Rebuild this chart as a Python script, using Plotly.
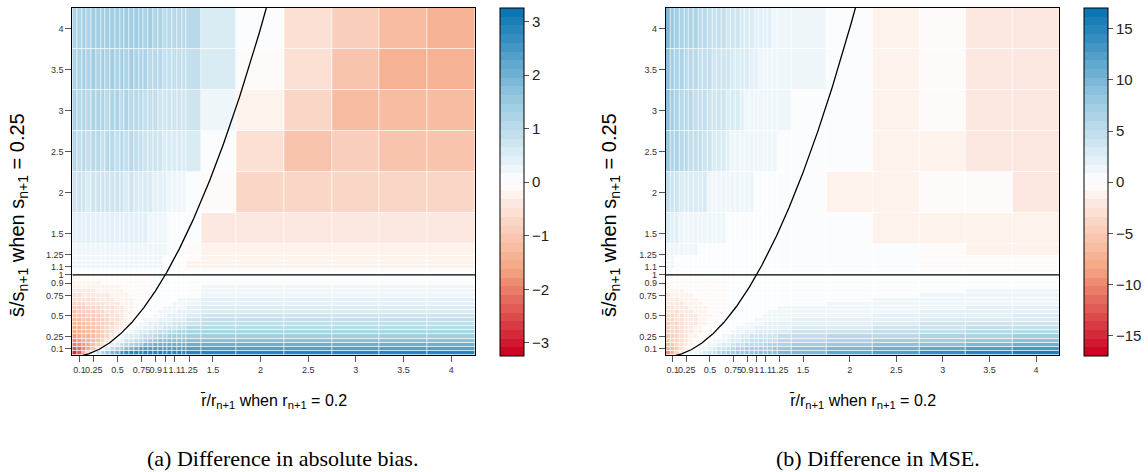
import numpy as np
import plotly.graph_objects as go

# ---------------- grid / ticks ----------------
grid = [0.05, 0.1, 0.15, 0.2, 0.25, 0.3, 0.35, 0.4, 0.45, 0.5, 0.55, 0.6, 0.65, 0.7, 0.75,
        0.8, 0.85, 0.9, 0.95, 1.0, 1.05, 1.1, 1.15, 1.2, 1.25, 1.5, 2, 2.5, 3, 3.5, 4]
tick_vals = [0.1, 0.25, 0.5, 0.75, 0.9, 1, 1.1, 1.25, 1.5, 2, 2.5, 3, 3.5, 4]
tick_text = ["0.1", "0.25", "0.5", "0.75", "0.9", "1", "1.1", "1.25", "1.5", "2", "2.5", "3", "3.5", "4"]
bias_ticks = [-3, -2, -1, 0, 1, 2, 3]
mse_ticks = [-15, -10, -5, 0, 5, 10, 15]

# ---------------- (a) difference in absolute bias ----------------
bias_low = [
    [-2.9, -2.4, -1.4, -0.5, 0.3, 0.8, 1.2, 1.5, 1.8, 2.1, 2.5, 2.75, 2.85, 2.9, 2.85, 2.9, 2.9, 2.85, 2.9, 2.9, 2.85, 2.9, 2.9, 2.85, 2.9, 2.9, 2.9, 2.85, 2.9, 2.9, 2.9],
    [-2.4, -2.2, -1.9, -1.5, -1.0, -0.4, 0.3, 0.6, 0.9, 1.2, 1.4, 1.65, 1.9, 2.1, 2.3, 2.4, 2.4, 2.4, 2.4, 2.4, 2.4, 2.4, 2.4, 2.4, 2.4, 2.4, 2.4, 2.4, 2.4, 2.4, 2.4],
    [-2.1, -1.95, -1.75, -1.5, -1.25, -0.9, -0.5, 0.1, 0.4, 0.6, 0.85, 1.05, 1.25, 1.45, 1.6, 1.8, 1.95, 2.1, 2.1, 2.1, 2.1, 2.1, 2.1, 2.1, 2.1, 2.1, 2.1, 2.1, 2.1, 2.1, 2.1],
    [-1.85, -1.75, -1.6, -1.45, -1.3, -1.05, -0.8, -0.45, 0.0, 0.25, 0.45, 0.65, 0.8, 0.95, 1.1, 1.25, 1.35, 1.5, 1.65, 1.75, 1.75, 1.75, 1.75, 1.75, 1.75, 1.75, 1.75, 1.75, 1.75, 1.75, 1.75],
    [-1.65, -1.55, -1.45, -1.35, -1.2, -1.05, -0.85, -0.65, -0.4, 0.0, 0.2, 0.35, 0.5, 0.6, 0.7, 0.85, 0.95, 1.05, 1.15, 1.25, 1.35, 1.45, 1.45, 1.45, 1.45, 1.45, 1.45, 1.45, 1.45, 1.45, 1.45],
    [-1.5, -1.45, -1.35, -1.25, -1.15, -1.05, -0.9, -0.75, -0.55, -0.3, 0.0, 0.15, 0.3, 0.4, 0.5, 0.6, 0.7, 0.75, 0.85, 0.95, 1.0, 1.1, 1.2, 1.25, 1.25, 1.25, 1.25, 1.25, 1.25, 1.25, 1.25],
    [-1.4, -1.35, -1.3, -1.2, -1.1, -1.0, -0.9, -0.78, -0.6, -0.45, -0.25, 0.0, 0.15, 0.25, 0.3, 0.4, 0.45, 0.55, 0.6, 0.7, 0.75, 0.8, 0.9, 0.95, 1.0, 1.05, 1.05, 1.05, 1.05, 1.05, 1.05],
    [-1.3, -1.25, -1.2, -1.1, -1.0, -0.95, -0.85, -0.75, -0.65, -0.52, -0.38, -0.2, 0.05, 0.15, 0.2, 0.3, 0.35, 0.4, 0.5, 0.55, 0.6, 0.65, 0.7, 0.75, 0.8, 0.95, 0.95, 0.95, 0.95, 0.95, 0.95],
    [-1.2, -1.15, -1.1, -1.05, -0.98, -0.9, -0.82, -0.74, -0.64, -0.55, -0.44, -0.32, -0.14, 0.05, 0.15, 0.2, 0.25, 0.3, 0.35, 0.4, 0.45, 0.5, 0.55, 0.6, 0.65, 0.85, 0.85, 0.85, 0.85, 0.85, 0.85],
    [-1.1, -1.05, -1.0, -0.95, -0.9, -0.84, -0.76, -0.68, -0.6, -0.52, -0.42, -0.3, -0.18, -0.06, 0.05, 0.1, 0.15, 0.2, 0.25, 0.3, 0.35, 0.4, 0.45, 0.45, 0.5, 0.72, 0.72, 0.72, 0.72, 0.72, 0.72],
    [-1.0, -0.96, -0.92, -0.87, -0.82, -0.76, -0.7, -0.63, -0.56, -0.48, -0.4, -0.32, -0.22, -0.11, 0.0, 0.05, 0.1, 0.15, 0.2, 0.25, 0.25, 0.3, 0.35, 0.35, 0.4, 0.62, 0.62, 0.62, 0.62, 0.62, 0.62],
    [-0.9, -0.87, -0.83, -0.79, -0.74, -0.69, -0.63, -0.57, -0.5, -0.44, -0.37, -0.3, -0.22, -0.14, -0.05, 0.02, 0.07, 0.1, 0.14, 0.18, 0.21, 0.25, 0.28, 0.31, 0.34, 0.55, 0.55, 0.55, 0.55, 0.55, 0.55],
    [-0.72, -0.7, -0.66, -0.63, -0.6, -0.55, -0.5, -0.46, -0.42, -0.37, -0.31, -0.25, -0.19, -0.13, -0.07, -0.01, 0.04, 0.07, 0.1, 0.13, 0.16, 0.19, 0.22, 0.25, 0.28, 0.47, 0.47, 0.47, 0.47, 0.47, 0.47],
    [-0.62, -0.6, -0.57, -0.54, -0.51, -0.48, -0.44, -0.4, -0.36, -0.32, -0.27, -0.22, -0.17, -0.12, -0.07, -0.03, 0.01, 0.04, 0.07, 0.09, 0.12, 0.15, 0.17, 0.2, 0.22, 0.4, 0.4, 0.4, 0.4, 0.4, 0.4],
    [-0.52, -0.5, -0.48, -0.46, -0.43, -0.4, -0.37, -0.34, -0.3, -0.26, -0.22, -0.18, -0.14, -0.1, -0.06, -0.03, -0.01, 0.02, 0.04, 0.06, 0.08, 0.1, 0.12, 0.14, 0.16, 0.32, 0.32, 0.32, 0.32, 0.32, 0.32],
    [-0.42, -0.41, -0.39, -0.37, -0.35, -0.32, -0.3, -0.27, -0.24, -0.21, -0.18, -0.15, -0.12, -0.09, -0.06, -0.03, -0.01, 0.0, 0.02, 0.04, 0.06, 0.07, 0.09, 0.1, 0.12, 0.25, 0.25, 0.25, 0.25, 0.25, 0.25],
    [-0.32, -0.31, -0.3, -0.28, -0.26, -0.25, -0.23, -0.21, -0.19, -0.17, -0.14, -0.12, -0.1, -0.07, -0.05, -0.03, -0.01, 0.0, 0.01, 0.02, 0.04, 0.05, 0.06, 0.07, 0.09, 0.18, 0.18, 0.18, 0.18, 0.18, 0.18],
    [-0.22, -0.21, -0.2, -0.19, -0.18, -0.17, -0.16, -0.14, -0.13, -0.11, -0.1, -0.08, -0.06, -0.05, -0.03, -0.02, -0.01, 0.0, 0.0, 0.01, 0.02, 0.03, 0.04, 0.05, 0.06, 0.12, 0.12, 0.12, 0.12, 0.12, 0.12],
    [-0.12, -0.12, -0.11, -0.1, -0.1, -0.09, -0.08, -0.07, -0.06, -0.05, -0.05, -0.04, -0.03, -0.02, -0.02, -0.01, 0.0, 0.0, 0.0, 0.01, 0.01, 0.02, 0.02, 0.03, 0.03, 0.06, 0.06, 0.06, 0.06, 0.06, 0.06],
    [-0.05, -0.05, -0.04, -0.04, -0.04, -0.03, -0.03, -0.03, -0.02, -0.02, -0.02, -0.01, -0.01, -0.01, 0.0, 0.0, 0.0, 0.0, 0.0, 0.0, 0.0, 0.0, 0.01, 0.01, 0.01, 0.02, 0.02, 0.02, 0.02, 0.02, 0.02],
]
bias_mid = [
    [0.03, 0.03, 0.03, 0.03, 0.03, 0.03, 0.03, 0.03, 0.03, 0.03, 0.03, 0.03, 0.03, 0.03, 0.03, 0.03, 0.03, 0.03, 0.03, 0.03, 0.0, 0.0, 0.0, 0.0, 0.0, 0.0, 0.0, 0.0, 0.0, 0.0, 0.0],
    [0.18, 0.18, 0.18, 0.18, 0.18, 0.18, 0.18, 0.18, 0.18, 0.18, 0.18, 0.18, 0.18, 0.18, 0.18, 0.18, 0.18, 0.18, 0.18, 0.1, 0.0, 0.0, -0.05, -0.1, -0.18, -0.2, -0.2, -0.2, -0.2, -0.2, -0.2],
    [0.18, 0.18, 0.18, 0.18, 0.18, 0.18, 0.18, 0.18, 0.18, 0.18, 0.18, 0.18, 0.18, 0.18, 0.18, 0.18, 0.18, 0.18, 0.18, 0.12, 0.05, 0.0, -0.05, -0.12, -0.18, -0.2, -0.2, -0.2, -0.2, -0.2, -0.2],
    [0.2, 0.2, 0.2, 0.2, 0.2, 0.2, 0.2, 0.2, 0.2, 0.2, 0.2, 0.2, 0.2, 0.2, 0.2, 0.2, 0.2, 0.2, 0.2, 0.15, 0.08, 0.02, -0.03, -0.1, -0.15, -0.2, -0.2, -0.2, -0.2, -0.2, -0.2],
    [0.22, 0.22, 0.22, 0.22, 0.22, 0.22, 0.22, 0.22, 0.22, 0.22, 0.22, 0.22, 0.22, 0.22, 0.22, 0.22, 0.22, 0.22, 0.22, 0.18, 0.12, 0.05, 0.0, -0.06, -0.1, -0.25, -0.25, -0.25, -0.25, -0.25, -0.25],
]
bias_high = [
    [0.45, 0.4, 0.42, 0.38, 0.45, 0.4, 0.42, 0.45, 0.4, 0.43, 0.38, 0.42, 0.4, 0.38, 0.35, 0.33, 0.3, 0.28, 0.25, 0.22, 0.15, 0.05, 0.02, 0.0, 0.0, -0.4, -0.4, -0.42, -0.42, -0.4, -0.4],
    [0.7, 0.65, 0.72, 0.6, 0.7, 0.65, 0.75, 0.68, 0.72, 0.65, 0.7, 0.62, 0.68, 0.6, 0.55, 0.52, 0.5, 0.45, 0.42, 0.4, 0.3, 0.28, 0.26, 0.25, 0.15, -0.15, -0.65, -0.65, -0.65, -0.65, -0.65],
    [1.0, 0.95, 1.05, 0.9, 1.0, 1.1, 0.95, 1.05, 1.0, 0.95, 1.05, 0.9, 1.0, 0.9, 0.85, 0.8, 0.75, 0.7, 0.65, 0.6, 0.6, 0.58, 0.55, 0.55, 0.5, 0.15, -0.55, -1.05, -0.95, -1.0, -1.0],
    [1.15, 1.1, 1.2, 1.05, 1.2, 1.15, 1.25, 1.1, 1.2, 1.15, 1.1, 1.2, 1.05, 1.1, 1.0, 0.95, 0.9, 0.85, 0.8, 0.75, 0.75, 0.72, 0.7, 0.7, 0.65, 0.3, -0.3, -0.7, -1.25, -1.2, -1.2],
    [1.2, 1.15, 1.3, 1.2, 1.35, 1.25, 1.3, 1.2, 1.35, 1.25, 1.3, 1.2, 1.3, 1.25, 1.2, 1.15, 1.1, 1.05, 1.0, 0.95, 0.95, 0.95, 0.9, 0.9, 0.85, 0.55, -0.15, -0.55, -1.05, -1.4, -1.4],
    [1.15, 1.2, 1.3, 1.25, 1.35, 1.3, 1.4, 1.3, 1.35, 1.4, 1.3, 1.35, 1.4, 1.3, 1.35, 1.25, 1.3, 1.2, 1.15, 1.1, 1.1, 1.1, 1.05, 1.05, 1.05, 0.55, 0.0, -0.55, -0.9, -1.15, -1.4],
]

# ---------------- (b) difference in MSE ----------------
mse_low = [
    [-9.5, -7.0, -4.2, -1.3, 0.4, 1.0, 1.7, 2.4, 3.1, 3.9, 4.6, 5.4, 6.2, 7.0, 7.6, 7.8, 7.9, 8.1, 8.3, 8.5, 8.7, 8.9, 9.1, 9.3, 9.5, 10.2, 11.5, 12.7, 13.8, 14.7, 15.5],
    [-7.5, -6.0, -4.3, -2.8, -1.4, -0.4, 0.45, 1.0, 1.6, 2.3, 2.9, 3.5, 4.2, 4.9, 5.6, 6.3, 6.7, 6.8, 7.0, 7.2, 7.3, 7.5, 7.6, 7.8, 8.0, 8.6, 9.6, 10.7, 11.6, 12.4, 13.0],
    [-6.5, -5.2, -4.0, -2.8, -1.8, -0.9, -0.25, 0.15, 0.7, 1.15, 1.7, 2.2, 2.7, 3.3, 3.8, 4.4, 5.0, 5.5, 5.6, 5.8, 5.9, 6.0, 6.2, 6.3, 6.4, 6.9, 7.8, 8.6, 9.3, 10.0, 10.5],
    [-5.8, -4.8, -3.9, -2.9, -2.0, -1.25, -0.62, -0.2, 0.0, 0.5, 0.9, 1.3, 1.7, 2.2, 2.6, 3.1, 3.6, 4.1, 4.6, 4.7, 4.8, 4.9, 5.0, 5.1, 5.2, 5.6, 6.3, 7.0, 7.6, 8.1, 8.5],
    [-5.3, -4.5, -3.75, -3.0, -2.25, -1.6, -1.0, -0.56, -0.2, 0.0, 0.4, 0.75, 1.1, 1.45, 1.8, 2.2, 2.6, 3.0, 3.4, 3.85, 3.9, 4.0, 4.1, 4.2, 4.3, 4.6, 5.2, 5.7, 6.2, 6.7, 7.0],
    [-5.0, -4.25, -3.6, -3.0, -2.4, -1.9, -1.4, -0.9, -0.5, -0.2, 0.0, 0.29, 0.55, 0.81, 1.09, 1.38, 1.67, 1.98, 2.29, 2.62, 2.95, 3.04, 3.11, 3.19, 3.27, 3.5, 3.9, 4.4, 5.1, 5.5, 5.8],
    [-4.6, -4.0, -3.5, -3.0, -2.5, -2.0, -1.55, -1.1, -0.75, -0.45, -0.2, 0.0, 0.25, 0.45, 0.66, 0.87, 1.09, 1.32, 1.55, 1.79, 2.04, 2.28, 2.34, 2.4, 2.46, 2.6, 2.9, 3.4, 4.2, 4.6, 4.8],
    [-4.3, -3.85, -3.4, -2.9, -2.5, -2.1, -1.75, -1.4, -1.0, -0.7, -0.38, -0.12, 0.07, 0.25, 0.42, 0.6, 0.78, 0.97, 1.16, 1.37, 1.57, 1.79, 1.95, 2.0, 2.05, 2.2, 2.4, 2.8, 3.5, 3.8, 4.0],
    [-4.0, -3.6, -3.25, -2.75, -2.4, -2.0, -1.7, -1.4, -1.05, -0.75, -0.5, -0.25, -0.06, 0.1, 0.24, 0.39, 0.54, 0.69, 0.85, 1.02, 1.19, 1.36, 1.54, 1.65, 1.69, 1.8, 2.0, 2.3, 2.9, 3.1, 3.3],
    [-3.7, -3.4, -3.1, -2.75, -2.4, -2.05, -1.75, -1.45, -1.12, -0.87, -0.62, -0.38, -0.19, 0.0, 0.11, 0.23, 0.34, 0.46, 0.59, 0.73, 0.85, 0.99, 1.14, 1.29, 1.33, 1.45, 1.56, 1.82, 2.3, 2.5, 2.6],
    [-3.3, -3.0, -2.7, -2.4, -2.13, -1.84, -1.57, -1.31, -1.05, -0.81, -0.56, -0.36, -0.15, 0.0, 0.0, 0.13, 0.23, 0.33, 0.44, 0.54, 0.66, 0.77, 0.89, 1.01, 1.13, 1.2, 1.3, 1.55, 1.95, 2.1, 2.2],
    [-2.9, -2.64, -2.37, -2.12, -1.86, -1.62, -1.38, -1.15, -0.92, -0.7, -0.5, -0.3, -0.13, 0.0, 0.0, 0.05, 0.14, 0.23, 0.32, 0.42, 0.51, 0.61, 0.71, 0.82, 0.93, 1.0, 1.15, 1.35, 1.65, 1.8, 1.9],
    [-2.5, -2.27, -2.05, -1.82, -1.6, -1.39, -1.19, -0.99, -0.8, -0.61, -0.43, -0.26, -0.12, 0.0, 0.0, 0.0, 0.07, 0.15, 0.23, 0.31, 0.39, 0.47, 0.55, 0.65, 0.74, 0.8, 0.96, 1.12, 1.4, 1.52, 1.6],
    [-2.1, -1.9, -1.72, -1.53, -1.35, -1.17, -1.0, -0.83, -0.67, -0.51, -0.36, -0.22, -0.09, 0.0, 0.0, 0.0, 0.02, 0.09, 0.15, 0.22, 0.29, 0.36, 0.43, 0.51, 0.58, 0.68, 0.81, 0.95, 1.19, 1.28, 1.35],
    [-1.7, -1.54, -1.39, -1.25, -1.09, -0.95, -0.8, -0.67, -0.54, -0.41, -0.29, -0.18, -0.08, 0.0, 0.0, 0.0, 0.0, 0.04, 0.1, 0.16, 0.22, 0.27, 0.34, 0.4, 0.47, 0.58, 0.69, 0.8, 1.0, 1.1, 1.15],
    [-1.2, -1.09, -0.98, -0.88, -0.77, -0.67, -0.57, -0.48, -0.38, -0.29, -0.21, -0.13, -0.06, 0.0, 0.0, 0.0, 0.0, 0.0, 0.06, 0.1, 0.15, 0.19, 0.24, 0.29, 0.34, 0.45, 0.54, 0.63, 0.79, 0.86, 0.9],
    [-0.9, -0.82, -0.74, -0.66, -0.58, -0.5, -0.43, -0.36, -0.29, -0.22, -0.15, -0.1, -0.04, 0.0, 0.0, 0.0, 0.0, 0.0, 0.02, 0.05, 0.08, 0.11, 0.15, 0.18, 0.22, 0.35, 0.42, 0.49, 0.62, 0.67, 0.7],
    [-0.6, -0.55, -0.49, -0.44, -0.39, -0.34, -0.29, -0.24, -0.19, -0.15, -0.1, -0.06, -0.03, 0.0, 0.0, 0.0, 0.0, 0.0, 0.0, 0.02, 0.04, 0.06, 0.08, 0.1, 0.12, 0.22, 0.27, 0.32, 0.4, 0.43, 0.45],
    [-0.3, -0.27, -0.25, -0.22, -0.19, -0.17, -0.14, -0.12, -0.1, -0.07, -0.05, -0.03, -0.01, 0.0, 0.0, 0.0, 0.0, 0.0, 0.0, 0.01, 0.02, 0.03, 0.04, 0.05, 0.06, 0.12, 0.15, 0.18, 0.22, 0.24, 0.25],
    [-0.1, -0.09, -0.08, -0.07, -0.06, -0.05, -0.04, -0.03, -0.02, -0.01, 0.0, 0.0, 0.0, 0.0, 0.0, 0.0, 0.0, 0.0, 0.0, 0.0, 0.01, 0.01, 0.01, 0.01, 0.01, 0.02, 0.03, 0.03, 0.04, 0.05, 0.05],
]
mse_mid = [
    [0.5, 0.3, 0.0, 0.0, 0.0, 0.0, 0.0, 0.0, 0.0, 0.0, 0.0, 0.0, 0.0, 0.0, 0.0, 0.0, 0.0, 0.0, 0.0, 0.0, 0.0, 0.0, 0.0, 0.0, 0.0, 0.0, 0.0, 0.0, 0.0, -0.1, -0.1],
    [1.0, 0.9, 0.3, 0.0, 0.0, 0.0, 0.0, 0.0, 0.0, 0.0, 0.0, 0.0, 0.0, 0.0, 0.0, 0.0, 0.0, 0.0, 0.0, 0.0, 0.0, 0.0, 0.0, 0.0, 0.0, 0.0, 0.0, 0.0, -0.1, -0.5, -0.5],
    [1.1, 1.0, 0.4, 0.0, 0.0, 0.0, 0.0, 0.0, 0.0, 0.0, 0.0, 0.0, 0.0, 0.0, 0.0, 0.0, 0.0, 0.0, 0.0, 0.0, 0.0, 0.0, 0.0, 0.0, 0.0, 0.0, 0.0, 0.0, -0.1, -0.6, -0.6],
    [1.2, 1.1, 0.5, 0.0, 0.0, 0.0, 0.0, 0.0, 0.0, 0.0, 0.0, 0.0, 0.0, 0.0, 0.0, 0.0, 0.0, 0.0, 0.0, 0.0, 0.0, 0.0, 0.0, 0.0, 0.0, 0.0, 0.0, 0.0, -0.1, -0.7, -0.7],
    [1.3, 1.3, 1.3, 1.3, 1.3, 1.3, 1.3, 0.3, 0.2, 0.1, 0.0, 0.0, 0.0, 0.0, 0.0, 0.0, 0.0, 0.0, 0.0, 0.0, 0.0, 0.0, 0.0, 0.0, 0.0, 0.0, 0.0, 0.0, -0.1, -1.3, -1.3],
]
mse_high = [
    [2.6, 2.5, 2.4, 1.4, 1.3, 1.3, 1.3, 1.2, 1.2, 1.1, 1.1, 1.0, 1.0, 0.3, 0.2, 0.2, 0.1, 0.1, 0.1, 0.1, 0.0, 0.0, 0.0, 0.0, 0.0, 0.0, 0.0, -0.9, -0.9, -0.9, -0.9],
    [4.7, 4.2, 3.9, 3.2, 3.0, 2.9, 2.8, 2.7, 2.6, 1.5, 1.4, 1.4, 1.3, 1.3, 1.2, 1.2, 1.1, 1.1, 1.0, 0.3, 0.2, 0.2, 0.1, 0.1, 0.1, 0.0, -0.9, -0.9, -0.8, -0.8, -2.3],
    [8.3, 6.5, 6.0, 5.6, 5.2, 4.9, 4.6, 4.3, 4.0, 3.6, 3.3, 3.0, 2.7, 2.3, 1.2, 1.0, 0.9, 0.9, 0.9, 0.9, 0.9, 0.9, 0.9, 0.9, 0.5, 0.0, 0.0, -0.9, -0.9, -1.7, -1.7],
    [8.5, 6.8, 6.3, 5.9, 5.6, 5.3, 5.0, 4.7, 4.4, 4.1, 3.8, 3.6, 3.4, 3.2, 3.0, 2.8, 2.2, 1.1, 1.0, 1.0, 1.0, 1.0, 0.9, 0.9, 0.9, 0.0, 0.0, -0.9, -0.8, -1.8, -1.8],
    [8.6, 7.0, 6.5, 6.1, 5.8, 5.5, 5.2, 5.0, 4.7, 4.4, 4.2, 3.9, 3.6, 3.4, 3.2, 3.0, 2.8, 2.6, 2.4, 2.2, 1.3, 1.2, 1.2, 1.1, 1.0, 1.0, 0.0, -0.9, -0.8, -1.8, -1.8],
    [9.5, 7.8, 7.0, 6.6, 6.4, 6.2, 6.0, 5.6, 5.3, 5.1, 4.9, 4.6, 4.3, 4.0, 3.7, 3.5, 3.2, 2.8, 2.6, 2.5, 2.3, 2.2, 2.0, 1.6, 1.2, 1.0, 0.0, -0.9, -0.8, -2.1, -2.0],
]

bias_z = bias_low + bias_mid + bias_high
mse_z = mse_low + mse_mid + mse_high

# ---------------- discrete diverging palette (40 levels) ----------------
anchors = ["#ca0020", "#f4a582", "#ffffff", "#92c5de", "#0571b0"]


def hex2rgb(h):
    return [int(h[i:i + 2], 16) for i in (1, 3, 5)]


def ramp(t):
    seg = min(int(t * 4), 3)
    f = t * 4 - seg
    a, b = hex2rgb(anchors[seg]), hex2rgb(anchors[seg + 1])
    c = [round(a[k] + (b[k] - a[k]) * f) for k in range(3)]
    return "rgb(%d,%d,%d)" % tuple(c)


N = 40
cscale = []
for i in range(N):
    col = ramp((i + 0.5) / N)
    cscale.append([i / N, col])
    cscale.append([(i + 1) / N, col])

W, H = 1148, 472
ydom = [1 - 355 / H, 1 - 8 / H]
xdom1 = [72.3 / W, 475 / W]
xdom2 = [665.7 / W, 1059.3 / W]
rng = [0.025, 4.25]

cb_common = dict(thickness=24, thicknessmode="pixels", len=348, lenmode="pixels",
                 y=1 - 182.2 / H, yanchor="middle", xanchor="left", xpad=0, ypad=0,
                 outlinewidth=1, outlinecolor="black", ticks="outside", ticklen=5,
                 tickcolor="#555", tickfont=dict(family="Liberation Sans", size=15, color="#222"))

fig = go.Figure()
fig.add_trace(go.Heatmap(x=grid, y=grid, z=bias_z, zmin=-3.25, zmax=3.25, colorscale=cscale,
                         xgap=0.7, ygap=0.7, xaxis="x", yaxis="y",
                         colorbar=dict(x=500 / W, tickvals=bias_ticks,
                                       ticktext=[str(v).replace("-", "\u2212") for v in bias_ticks],
                                       **cb_common)))
fig.add_trace(go.Heatmap(x=grid, y=grid, z=mse_z, zmin=-17, zmax=17, colorscale=cscale,
                         xgap=0.7, ygap=0.7, xaxis="x2", yaxis="y2",
                         colorbar=dict(x=1084.3 / W, tickvals=mse_ticks,
                                       ticktext=[str(v).replace("-", "\u2212") for v in mse_ticks],
                                       **cb_common)))

# boundary curve (ratio of s equals squared ratio of r) and the horizontal line at 1
xc = np.linspace(0.0, 2.12, 400)
for xa, ya in (("x", "y"), ("x2", "y2")):
    fig.add_trace(go.Scatter(x=xc, y=xc ** 2, mode="lines", line=dict(color="black", width=1.3),
                             xaxis=xa, yaxis=ya, hoverinfo="skip", showlegend=False))
    fig.add_trace(go.Scatter(x=rng, y=[1, 1], mode="lines", line=dict(color="black", width=1.3),
                             xaxis=xa, yaxis=ya, hoverinfo="skip", showlegend=False))

axis_common = dict(range=rng, tickmode="array", tickvals=tick_vals, ticktext=tick_text,
                   ticks="outside", ticklen=6, tickcolor="#555", tickwidth=1,
                   tickfont=dict(family="Liberation Sans", size=9, color="#333"),
                   showline=True, linecolor="black", linewidth=1, mirror=True,
                   showgrid=False, zeroline=False, tickangle=0)

fig.update_layout(
    width=W, height=H, margin=dict(l=0, r=0, t=0, b=0),
    paper_bgcolor="white", plot_bgcolor="white", showlegend=False,
    xaxis=dict(domain=xdom1, anchor="y", **axis_common),
    yaxis=dict(domain=ydom, anchor="x", **axis_common),
    xaxis2=dict(domain=xdom2, anchor="y2", **axis_common),
    yaxis2=dict(domain=ydom, anchor="x2", **axis_common),
)

xtitle = "r\u0304/r<sub>n+1</sub> when r<sub>n+1</sub> = 0.2"
ytitle = "s\u0304/s<sub>n+1</sub> when s<sub>n+1</sub> = 0.25"
ann = []
for cx, yx in ((273.6, 18), (862.5, 610)):
    ann.append(dict(x=cx / W, y=1 - 401 / H, xref="paper", yref="paper", text=xtitle, showarrow=False,
                    font=dict(family="Liberation Sans", size=16, color="black"),
                    xanchor="center", yanchor="middle"))
    ann.append(dict(x=yx / W, y=1 - 215 / H, xref="paper", yref="paper", text=ytitle, showarrow=False,
                    textangle=-90, font=dict(family="Liberation Sans", size=20, color="black"),
                    xanchor="center", yanchor="middle"))
ann.append(dict(x=282.5 / W, y=1 - 458 / H, xref="paper", yref="paper",
                text="(a) Difference in absolute bias.", showarrow=False,
                font=dict(family="Liberation Serif", size=22, color="black"),
                xanchor="center", yanchor="middle"))
ann.append(dict(x=877.5 / W, y=1 - 458 / H, xref="paper", yref="paper",
                text="(b) Difference in MSE.", showarrow=False,
                font=dict(family="Liberation Serif", size=22, color="black"),
                xanchor="center", yanchor="middle"))
fig.update_layout(annotations=ann)

fig.write_html("out.html")
